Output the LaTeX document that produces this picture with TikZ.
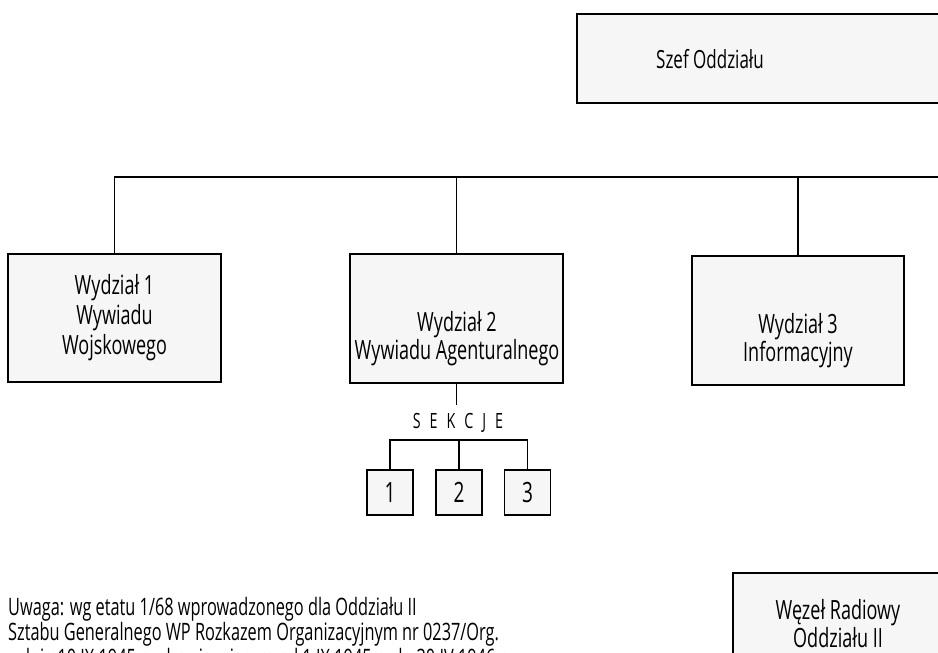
\documentclass[tikz,border=0pt]{standalone}
\usepackage{fontspec}
\setmainfont[FakeStretch=0.68]{Open Sans}
\begin{document}
\begin{tikzpicture}[x=1pt,y=-1pt,
  box/.style={draw=black,line width=1.7pt,fill=gray!7,inner sep=0pt,align=center,font=\fontsize{26.5}{30}\selectfont},
  sbox/.style={draw=black,line width=1.7pt,fill=gray!7,inner sep=0pt,minimum width=46pt,minimum height=45pt,font=\fontsize{28}{28}\selectfont},
  conn/.style={draw=black,line width=1.6pt},
  txt/.style={inner sep=0pt,font=\fontsize{26.5}{28}\selectfont}]
\useasboundingbox (0,0) rectangle (938,653);
\clip (0,0) rectangle (938,653);
\fill[white] (0,0) rectangle (938,653);
% top box
\node[box,minimum width=400pt,minimum height=89pt] (szef) at (777,58.5) {};
\node[txt,font=\fontsize{25}{28}\selectfont] (szeft) at (710,59) {Szef Oddziału};
% departments
\node[box,minimum width=213pt,minimum height=128pt] (w1) at (114.5,318) {Wydział 1\\Wywiadu\\Wojskowego};
\node[box,minimum width=213pt,minimum height=129pt] (w2) at (456.5,318.5) {};
\node[txt,align=center] (w2t) at (457,339) {Wydział 2\\Wywiadu Agenturalnego};
\node[box,minimum width=212pt,minimum height=129pt] (w3) at (798,320.5) {};
\node[txt,align=center] (w3t) at (798,341) {Wydział 3\\Informacyjny};
\coordinate (busR) at (945,177);
\draw[conn] (w1.north) -- (w1.north |- busR) -- (busR);
\draw[conn] (w2.north) -- (w2.north |- busR);
\draw[conn] (w3.north) -- (w3.north |- busR);
% sections
\node[txt,font=\fontsize{21}{22}\selectfont] (sek) at (458,423) {S\hspace{9pt}E\hspace{9pt}K\hspace{9pt}C\hspace{9pt}J\hspace{9pt}E};
\draw[conn] (w2.south) -- (w2.south |- 0,405);
\node[sbox] (s1) at (390,492.5) {1};
\node[sbox] (s2) at (459,492.5) {2};
\node[sbox] (s3) at (527.5,492.5) {3};
\coordinate (brk) at (0,440);
\draw[conn] (s1.north) -- (s1.north |- brk) -- (s3.north |- brk) -- (s3.north);
\draw[conn] (s2.north) -- (s2.north |- brk);
% radio node
\node[box,minimum width=212pt,minimum height=104pt] (wez) at (839,625) {};
\node[txt,align=center] (wezt) at (838,624) {Węzeł Radiowy\\Oddziału II};
% note
\node[txt,anchor=north west,align=left,font=\fontsize{24}{25.5}\selectfont] (note) at (8,597) {Uwaga: wg etatu 1/68 wprowadzonego dla Oddziału II\\Sztabu Generalnego WP Rozkazem Organizacyjnym nr 0237/Org.\\z dnia 10 IX 1945 r. obowiązującym od 1 IX 1945 r. do 30 IV 1946 r.};
\end{tikzpicture}
\end{document}
